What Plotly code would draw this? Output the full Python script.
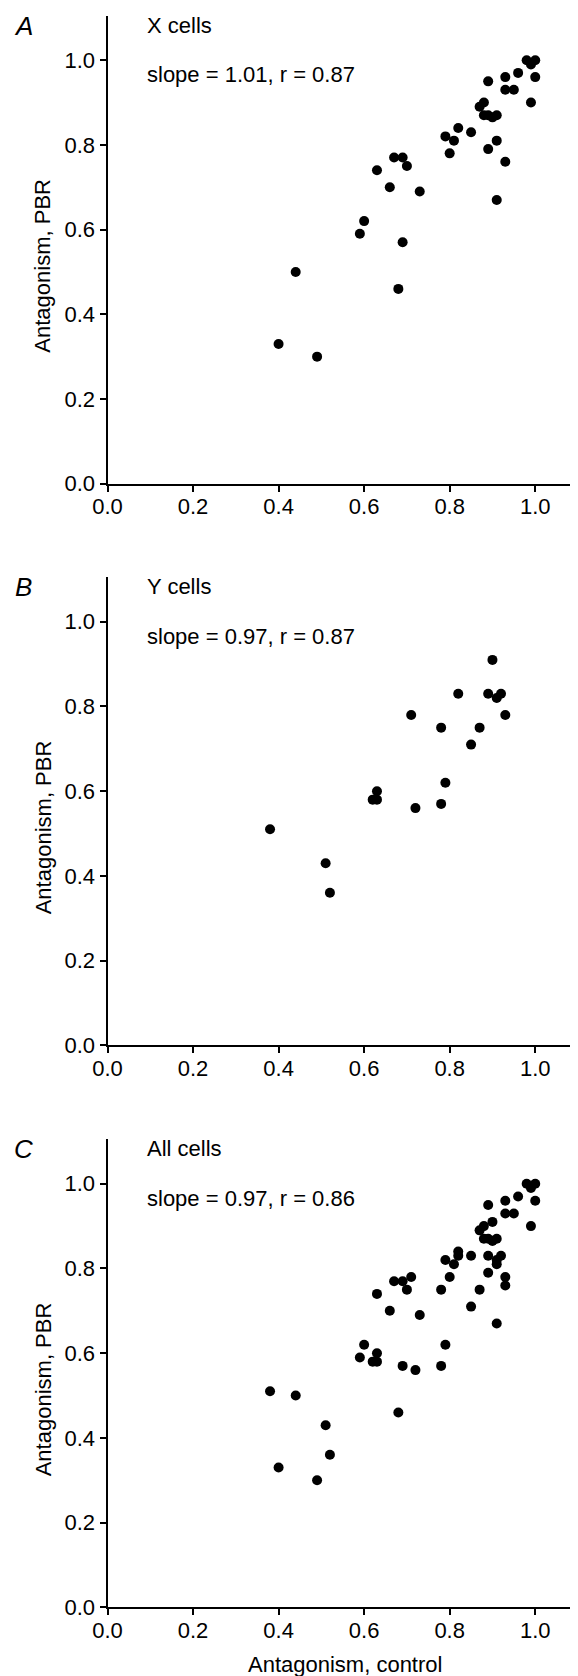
import plotly.graph_objects as go

# X cells: antagonism under control vs PBR
x_ctrl = [0.40, 0.44, 0.49, 0.59, 0.60, 0.63, 0.66, 0.67, 0.69, 0.70, 0.73, 0.69, 0.68,
          0.79, 0.80, 0.81, 0.82, 0.85, 0.87, 0.88, 0.88, 0.89, 0.89, 0.90, 0.91, 0.89,
          0.91, 0.91, 0.93, 0.93, 0.93, 0.95, 0.96, 0.98, 0.99, 1.00, 0.99, 1.00]
x_pbr = [0.33, 0.50, 0.30, 0.59, 0.62, 0.74, 0.70, 0.77, 0.77, 0.75, 0.69, 0.57, 0.46,
         0.82, 0.78, 0.81, 0.84, 0.83, 0.89, 0.90, 0.87, 0.95, 0.87, 0.865, 0.87, 0.79,
         0.81, 0.67, 0.76, 0.93, 0.96, 0.93, 0.97, 1.00, 0.99, 1.00, 0.90, 0.96]

# Y cells
y_ctrl = [0.38, 0.51, 0.52, 0.62, 0.63, 0.63, 0.71, 0.72, 0.78, 0.78, 0.79, 0.82,
          0.85, 0.87, 0.89, 0.90, 0.91, 0.92, 0.93]
y_pbr = [0.51, 0.43, 0.36, 0.58, 0.58, 0.60, 0.78, 0.56, 0.75, 0.57, 0.62, 0.83,
         0.71, 0.75, 0.83, 0.91, 0.82, 0.83, 0.78]

panel_letters = ["A", "B", "C"]
panel_names = ["X cells", "Y cells", "All cells"]
panel_stats = ["slope = 1.01, r = 0.87", "slope = 0.97, r = 0.87", "slope = 0.97, r = 0.86"]
tick_vals = [0.0, 0.2, 0.4, 0.6, 0.8, 1.0]
tick_text = ["0.0", "0.2", "0.4", "0.6", "0.8", "1.0"]

panels = [(x_ctrl, x_pbr), (y_ctrl, y_pbr), (x_ctrl + y_ctrl, x_pbr + y_pbr)]

# the page body adds an 8px margin, so the figure is 8px smaller and positions shift by 8
OFF = 8
W, H = 578 - OFF, 1676 - OFF
FONT = "Liberation Sans, Arial, Helvetica, sans-serif"
x_left = 107.5 - OFF
tops = [15.7 - OFF, 577.3 - OFF, 1139.3 - OFF]
plot_h = 468

fig = go.Figure()
annotations = []
layout_axes = {}
for i, (xs, ys) in enumerate(panels):
    n = "" if i == 0 else str(i + 1)
    fig.add_trace(go.Scatter(
        x=xs, y=ys, mode="markers",
        marker=dict(color="black", size=10),
        xaxis="x" + n, yaxis="y" + n, showlegend=False,
    ))
    top = tops[i]
    bot = top + plot_h
    axis_common = dict(
        showgrid=False, zeroline=False, showline=True, linecolor="black", linewidth=2,
        ticks="outside", ticklen=6, tickwidth=1.5, tickcolor="black",
        tickvals=tick_vals, ticktext=tick_text,
        tickfont=dict(family=FONT, size=22, color="black"),
        automargin=False,
    )
    layout_axes["xaxis" + n] = dict(axis_common, domain=[x_left / W, 1.0], range=[0, 1.1],
                                    anchor="y" + n, ticklabelstandoff=-4)
    layout_axes["yaxis" + n] = dict(axis_common, domain=[1 - bot / H, 1 - top / H],
                                    range=[0, 1.105], anchor="x" + n)
    # panel letter
    annotations.append(dict(x=(23 - OFF) / W, y=1 - (top + 10) / H, xref="paper", yref="paper",
                            text="<i>" + panel_letters[i] + "</i>", showarrow=False,
                            font=dict(family=FONT, size=26, color="black"),
                            xanchor="center", yanchor="middle"))
    annotations.append(dict(x=0.088, y=1.083, xref="x" + n, yref="y" + n,
                            text=panel_names[i], showarrow=False,
                            font=dict(family=FONT, size=22, color="black"),
                            xanchor="left", yanchor="middle"))
    annotations.append(dict(x=0.088, y=0.965, xref="x" + n, yref="y" + n,
                            text=panel_stats[i], showarrow=False,
                            font=dict(family=FONT, size=22, color="black"),
                            xanchor="left", yanchor="middle"))
    # y axis title
    annotations.append(dict(x=(43 - OFF) / W, y=1 - (top + plot_h / 2 + 16) / H,
                            xref="paper", yref="paper", text="Antagonism, PBR",
                            textangle=-90, showarrow=False,
                            font=dict(family=FONT, size=22, color="black"),
                            xanchor="center", yanchor="middle"))

annotations.append(dict(x=(345 - OFF) / W, y=1 - (1664 - OFF) / H, xref="paper", yref="paper",
                        text="Antagonism, control", showarrow=False,
                        font=dict(family=FONT, size=22, color="black"),
                        xanchor="center", yanchor="middle"))

fig.update_layout(
    width=W, height=H,
    margin=dict(l=0, r=0, t=0, b=0),
    paper_bgcolor="white", plot_bgcolor="white",
    annotations=annotations,
    **layout_axes,
)

fig.write_html("out.html")
